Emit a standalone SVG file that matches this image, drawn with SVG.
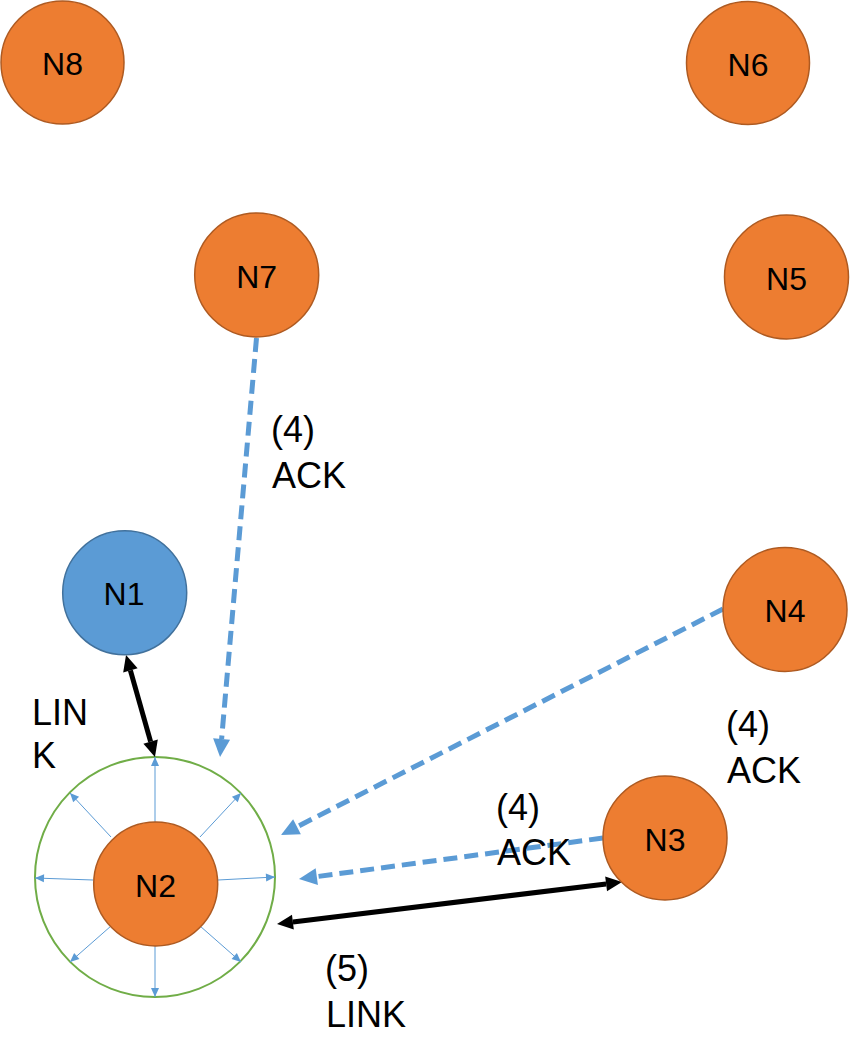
<svg xmlns="http://www.w3.org/2000/svg" width="858" height="1060" viewBox="0 0 858 1060">
<style>
.node{fill:#ED7D31;stroke:#AE5A21;stroke-width:1.5}
.blue{fill:#5B9BD5;stroke:#41719C;stroke-width:1.5}
.nl{font-family:"Liberation Sans",Arial,sans-serif;font-size:32px;fill:#000;text-anchor:middle}
.lbl{font-family:"Liberation Sans",Arial,sans-serif;font-size:36px;fill:#000}
.dash{stroke:#5B9BD5;stroke-width:5;stroke-dasharray:14 7;fill:none;marker-end:url(#dh)}
.blk{stroke:#000;stroke-width:5;fill:none;marker-start:url(#bh);marker-end:url(#bh)}
.sm{stroke:#5B9BD5;stroke-width:1;fill:none;marker-end:url(#sh)}
</style>
<defs>
<marker id="dh" markerUnits="userSpaceOnUse" markerWidth="20" markerHeight="20" refX="0" refY="8.5" orient="auto" overflow="visible"><path d="M0,0 L18,8.5 L0,17 z" fill="#5B9BD5"/></marker>
<marker id="bh" markerUnits="userSpaceOnUse" markerWidth="18" markerHeight="18" refX="0" refY="7.5" orient="auto-start-reverse" overflow="visible"><path d="M0,0 L16,7.5 L0,15 z" fill="#000"/></marker>
<marker id="sh" markerUnits="userSpaceOnUse" markerWidth="10" markerHeight="10" refX="9" refY="4" orient="auto" overflow="visible"><path d="M0,0 L9,4 L0,8 z" fill="#5B9BD5"/></marker>
</defs>
<g id="range">
<circle cx="155" cy="877" r="120" fill="none" stroke="#70AD47" stroke-width="2"/>
<line class="sm" x1="155" y1="822" x2="155" y2="757"/>
<line class="sm" x1="155" y1="946" x2="155" y2="997"/>
<line class="sm" x1="93" y1="880" x2="35" y2="878"/>
<line class="sm" x1="218" y1="880" x2="275" y2="877"/>
<line class="sm" x1="111" y1="837" x2="70" y2="793"/>
<line class="sm" x1="200" y1="837" x2="241" y2="793"/>
<line class="sm" x1="111" y1="926" x2="70" y2="962"/>
<line class="sm" x1="200" y1="926" x2="241" y2="962"/>
</g>
<g id="connectors">
<line class="dash" x1="256.5" y1="338" x2="221.6" y2="739.1"/>
<line class="dash" x1="723" y1="609" x2="297" y2="826.8"/>
<line class="dash" x1="603" y1="838" x2="316.8" y2="876.6"/>
<line class="blk" x1="130.4" y1="670.4" x2="150.6" y2="741.6"/>
<line class="blk" x1="606.1" y1="883.9" x2="292.9" y2="922.1"/>
</g>
<g id="N8"><circle class="node" cx="62.5" cy="62.5" r="61.5"/><text class="nl" x="62.5" y="75">N8</text></g>
<g id="N6"><circle class="node" cx="748" cy="63" r="61.5"/><text class="nl" x="748" y="75.5">N6</text></g>
<g id="N7"><circle class="node" cx="256.7" cy="275" r="62"/><text class="nl" x="256.7" y="287.5">N7</text></g>
<g id="N5"><circle class="node" cx="786.5" cy="277" r="62"/><text class="nl" x="786.5" y="289.5">N5</text></g>
<g id="N1"><circle class="blue" cx="124.7" cy="592.8" r="62"/><text class="nl" x="124" y="605">N1</text></g>
<g id="N4"><circle class="node" cx="785" cy="609.5" r="62"/><text class="nl" x="785" y="622">N4</text></g>
<g id="N3"><circle class="node" cx="665" cy="838" r="62"/><text class="nl" x="665" y="850.5">N3</text></g>
<g id="N2"><circle class="node" cx="155.7" cy="884" r="62"/><text class="nl" x="155.5" y="896.5">N2</text></g>
<g id="labels">
<text class="lbl" x="271" y="442">(4)</text><text class="lbl" x="272" y="488">ACK</text>
<text class="lbl" x="726" y="737">(4)</text><text class="lbl" x="727" y="783">ACK</text>
<text class="lbl" x="496" y="820">(4)</text><text class="lbl" x="497" y="865">ACK</text>
<text class="lbl" x="325" y="981">(5)</text><text class="lbl" x="326" y="1027">LINK</text>
<text class="lbl" x="32" y="725">LIN</text><text class="lbl" x="32" y="768">K</text>
</g>
</svg>
